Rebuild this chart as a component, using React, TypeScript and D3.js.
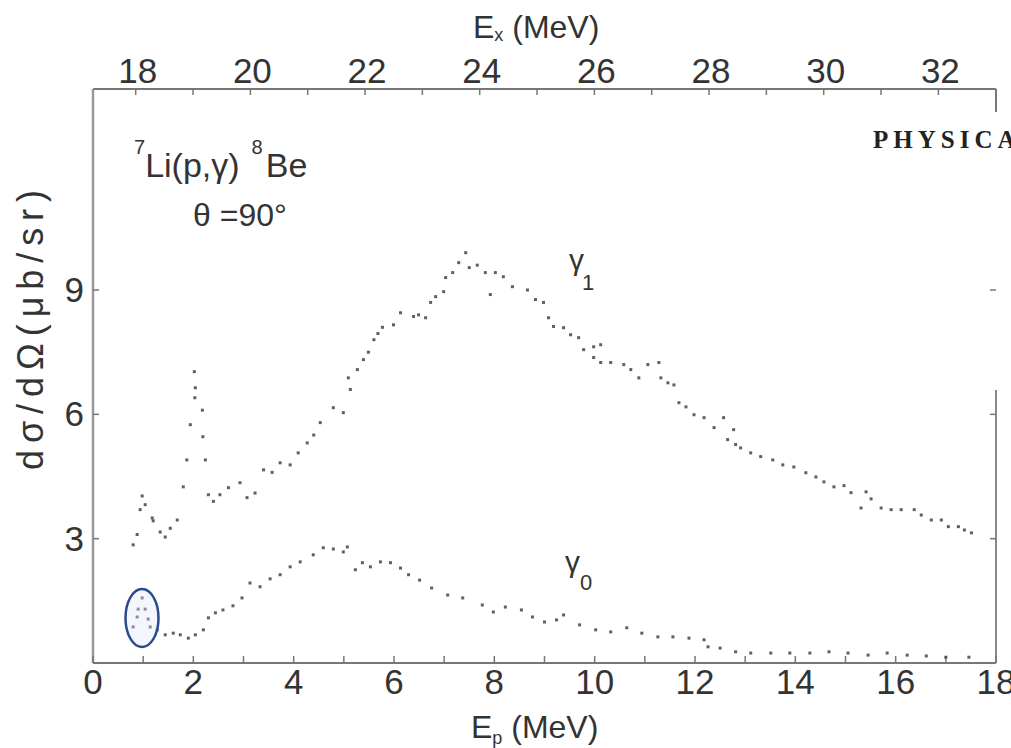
import React from "react";
import * as d3 from "d3";

// gamma_1 data: [Ep (MeV), dsigma/dOmega (ub/sr)]
const gamma1Ep = [0.80,0.88,0.94,0.98,1.04,1.18,1.20,1.34,1.44,1.54,1.68,1.80,1.87,1.94,2.02,2.03,2.04,2.18,2.19,2.24,2.30,2.40,2.53,2.70,2.93,3.07,3.23,3.40,3.57,3.73,3.93,4.09,4.27,4.40,4.53,4.79,4.99,5.09,5.13,5.27,5.39,5.49,5.60,5.68,5.77,5.99,6.13,6.39,6.49,6.63,6.73,6.83,6.99,7.03,7.17,7.29,7.43,7.50,7.66,7.82,7.92,8.02,8.18,8.36,8.66,8.82,8.98,9.08,9.18,9.38,9.52,9.68,9.78,9.98,9.98,10.12,10.12,10.32,10.58,10.72,10.88,11.06,11.28,11.32,11.46,11.58,11.68,11.82,11.98,12.18,12.38,12.57,12.65,12.77,12.81,12.91,13.11,13.31,13.55,13.75,13.97,14.21,14.41,14.57,14.77,14.97,15.11,15.31,15.41,15.51,15.71,15.91,16.11,16.37,16.51,16.71,16.91,17.05,17.25,17.37,17.51];
const gamma1Val = [2.85,3.10,3.70,4.03,3.82,3.50,3.43,3.16,3.04,3.25,3.45,4.25,4.90,5.75,7.03,6.40,6.64,6.10,5.46,4.90,4.06,3.90,4.06,4.23,4.35,3.99,4.10,4.66,4.60,4.83,4.78,5.07,5.31,5.50,5.80,6.16,6.04,6.88,6.60,7.08,7.32,7.50,7.80,7.95,8.10,8.16,8.45,8.36,8.40,8.33,8.70,8.84,8.96,9.30,9.42,9.66,9.90,9.54,9.60,9.42,8.89,9.42,9.32,9.08,9.00,8.77,8.70,8.33,8.12,8.09,7.92,7.85,7.56,7.63,7.37,7.68,7.25,7.25,7.20,7.08,6.88,7.20,7.25,6.88,6.76,6.71,6.28,6.18,5.99,5.92,5.68,5.92,5.39,5.63,5.27,5.19,5.07,4.98,4.90,4.78,4.73,4.59,4.49,4.37,4.25,4.28,4.11,3.74,4.13,3.96,3.74,3.70,3.70,3.70,3.57,3.45,3.45,3.29,3.29,3.21,3.14];

// gamma_0 data
const gamma0Ep = [0.80,0.88,0.90,0.98,1.04,1.10,1.14,1.28,1.44,1.60,1.74,1.90,2.04,2.20,2.30,2.44,2.59,2.79,2.97,3.13,3.33,3.53,3.73,3.93,4.13,4.39,4.59,4.79,4.99,5.07,5.23,5.37,5.53,5.73,5.93,6.13,6.29,6.51,6.75,7.07,7.37,7.76,7.98,8.22,8.54,8.76,9.00,9.24,9.38,9.70,10.02,10.32,10.64,10.94,11.26,11.56,11.88,12.18,12.26,12.50,12.81,13.11,13.51,13.89,14.29,14.67,15.05,15.45,15.83,16.23,16.61,17.00,17.46];
const gamma0Val = [0.87,1.11,1.30,1.57,1.30,1.06,0.87,0.80,0.68,0.72,0.68,0.60,0.68,0.80,1.09,1.21,1.28,1.38,1.57,1.93,1.84,2.03,2.13,2.32,2.44,2.61,2.78,2.75,2.68,2.80,2.25,2.42,2.32,2.44,2.42,2.29,2.13,2.00,1.81,1.64,1.57,1.40,1.23,1.35,1.28,1.11,0.99,1.04,1.16,0.92,0.80,0.75,0.85,0.72,0.63,0.63,0.60,0.56,0.39,0.36,0.27,0.24,0.24,0.24,0.24,0.27,0.24,0.19,0.24,0.19,0.17,0.14,0.14];

const epTicks = [0, 2, 4, 6, 8, 10, 12, 14, 16, 18];
const epMinor = [1, 3, 5, 7, 9, 11, 13, 15, 17];
const exTicks = [18, 20, 22, 24, 26, 28, 30, 32];
const exMinor = [19, 21, 23, 25, 27, 29, 31, 33];
const yTicks = [3, 6, 9];
const Q = 17.255;

export default function App() {
  const x = d3.scaleLinear().domain([0, 18]).range([93, 996]);
  const y = d3.scaleLinear().domain([0, 9]).range([663, 290]);
  const exToX = (ex: number) => x((ex - Q) / 0.875);
  const top = 89;
  const left = 93;
  const right = 996;
  const bottom = 663;
  const axisColor = "#777";
  const font = "Liberation Sans, Arial, sans-serif";
  const txt = "#333";

  const pts1 = gamma1Ep.map((e, i) => [e, gamma1Val[i]]);
  const pts0 = gamma0Ep.map((e, i) => [e, gamma0Val[i]]);

  return (
    <svg width={1011} height={748} style={{ position: "absolute", left: 0, top: 0, background: "#fff" }}>
      {/* axes frame */}
      <line x1={left} x2={right} y1={top} y2={top} stroke={axisColor} strokeWidth={2} />
      <line x1={left} x2={left} y1={top} y2={bottom} stroke="#999" strokeWidth={2.5} />
      <line x1={left} x2={right} y1={bottom} y2={bottom} stroke={axisColor} strokeWidth={2} />
      <line x1={right} x2={right} y1={top} y2={112} stroke={axisColor} strokeWidth={2} />
      <line x1={right} x2={right} y1={390} y2={bottom} stroke="#888" strokeWidth={2} />

      {/* bottom ticks */}
      {[...epTicks, ...epMinor].map((t) => (
        <line key={"bt" + t} x1={x(t)} x2={x(t)} y1={bottom} y2={bottom - 7} stroke={axisColor} strokeWidth={1.5} />
      ))}
      {epTicks.map((t) => (
        <text key={"bl" + t} x={x(t)} y={694} fontSize={35} fontFamily={font} textAnchor="middle" fill={txt}>{t}</text>
      ))}
      {/* top ticks */}
      {[...exTicks, ...exMinor].map((t) => (
        <line key={"tt" + t} x1={exToX(t)} x2={exToX(t)} y1={top} y2={top + 6} stroke={axisColor} strokeWidth={1.5} />
      ))}
      {exTicks.map((t) => (
        <text key={"tl" + t} x={exToX(t) + 2} y={83} fontSize={35} fontFamily={font} textAnchor="middle" fill={txt}>{t}</text>
      ))}
      {/* y ticks */}
      {yTicks.map((t) => (
        <g key={"yt" + t}>
          <line x1={left} x2={left + 6} y1={y(t)} y2={y(t)} stroke={axisColor} strokeWidth={1.5} />
          <line x1={right} x2={right - 6} y1={y(t)} y2={y(t)} stroke={axisColor} strokeWidth={1.5} />
          <text x={84} y={y(t) + 12} fontSize={35} fontFamily={font} textAnchor="end" fill={txt}>{t}</text>
        </g>
      ))}

      {/* axis titles */}
      <text x={473} y={38} fontSize={32} fontFamily={font} fill={txt}>
        E<tspan fontSize={18} dy={3}>x</tspan><tspan dy={-3}> (MeV)</tspan>
      </text>
      <text x={471} y={738} fontSize={32} fontFamily={font} fill={txt}>
        E<tspan fontSize={18} dy={6}>p</tspan><tspan dy={-6}> (MeV)</tspan>
      </text>
      <text transform="translate(43,330) rotate(-90)" fontSize={36} fontFamily={font} textAnchor="middle" fill={txt} textLength={280} lengthAdjust="spacing">
        dσ/dΩ(μb/sr)
      </text>

      {/* annotations */}
      <text x={134} y={177} fontSize={34} fontFamily={font} fill={txt}>
        <tspan fontSize={20} dy={-23}>7</tspan><tspan dy={23}>Li(p,γ)</tspan><tspan fontSize={20} dx={12} dy={-23}>8</tspan><tspan dy={23} dx={3}>Be</tspan>
      </text>
      <text x={193} y={226} fontSize={32} fontFamily={font} fill={txt}>
        θ =90°
      </text>
      <text x={873} y={148} fontSize={25} fontFamily="Liberation Serif, serif" fontWeight="bold" letterSpacing={5} fill="#222">
        PHYSICAL
      </text>
      <text x={569} y={270} fontSize={30} fontFamily={font} fill={txt}>
        γ<tspan fontSize={22} dx={-2} dy={20}>1</tspan>
      </text>
      <text x={565} y={572} fontSize={30} fontFamily={font} fill={txt}>
        γ<tspan fontSize={22} dx={0} dy={18}>0</tspan>
      </text>

      {/* data */}
      {pts1.map((p, i) => (
        <rect key={"a" + i} x={x(p[0]) - 1.5} y={y(p[1]) - 1.5} width={3} height={3} fill="#444" opacity={0.85} />
      ))}
      {pts0.map((p, i) => (
        <rect key={"b" + i} x={x(p[0]) - 1.5} y={y(p[1]) - 1.5} width={3} height={3} fill="#444" opacity={0.85} />
      ))}

      {/* highlighted region */}
      <ellipse cx={142} cy={618} rx={16.5} ry={29} fill="rgba(220,230,250,0.35)" stroke="#2b4a8c" strokeWidth={2.5} />
    </svg>
  );
}
